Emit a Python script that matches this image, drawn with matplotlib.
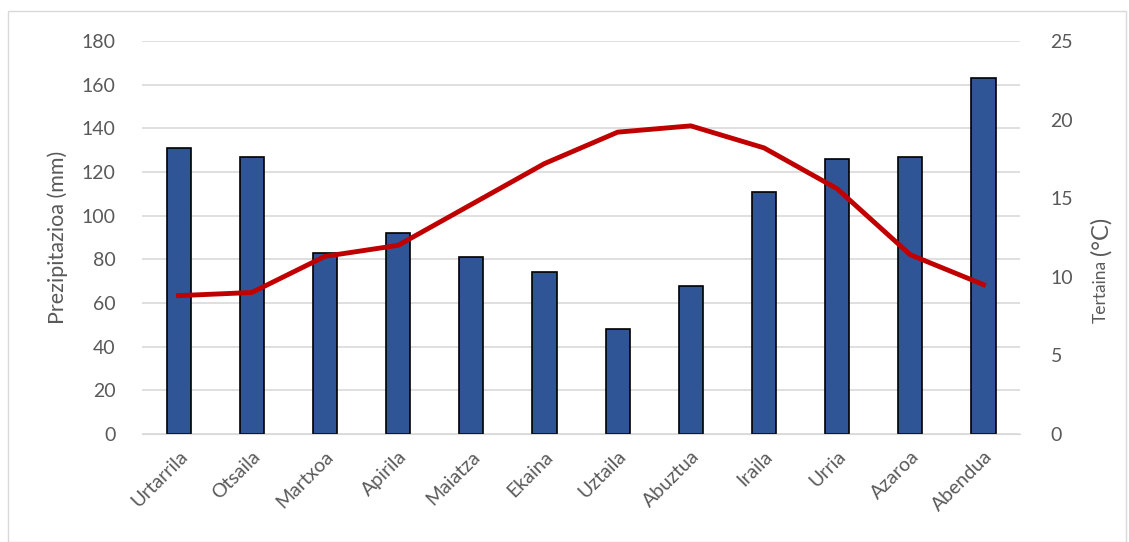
import matplotlib.pyplot as plt
from matplotlib.patches import Rectangle

months = ["Urtarrila", "Otsaila", "Martxoa", "Apirila", "Maiatza", "Ekaina",
          "Uztaila", "Abuztua", "Iraila", "Urria", "Azaroa", "Abendua"]
precip = [131, 127, 83, 92, 81, 74, 48, 68, 111, 126, 127, 163]
temp = [8.8, 9.0, 11.3, 12.0, 14.6, 17.2, 19.2, 19.6, 18.2, 15.6, 11.4, 9.5]

grey = "#595959"
plt.rcParams['font.family'] = ['Lato', 'DejaVu Sans']

fig = plt.figure(figsize=(11.29, 5.42), dpi=100)
fig.patches.append(Rectangle((0.007, 0.0), 0.99, 0.98, transform=fig.transFigure,
                             fill=False, edgecolor="#d9d9d9", linewidth=1))
ax = fig.add_axes([0.1258, 0.1993, 0.7777, 0.7251])
x = range(len(months))

ax.bar(x, precip, width=0.33, color="#2f5597", edgecolor="black", linewidth=1.2, zorder=2)
ax.set_ylim(0, 180)
ax.set_yticks(range(0, 181, 20))
ax.set_xlim(-0.5, len(months) - 0.5)
ax.grid(axis="y", color="#d9d9d9", linewidth=1.2, zorder=0)
ax.set_axisbelow(True)
ax.set_xticks(list(x))
ax.set_xticklabels(months, rotation=45, ha="right", rotation_mode="anchor")
ax.tick_params(axis="both", length=0, colors=grey, labelsize=14)
ax.tick_params(axis="y", pad=19)
ax.tick_params(axis="x", pad=10)
for s in ax.spines.values():
    s.set_visible(False)
ax.spines["bottom"].set_visible(True)
ax.spines["bottom"].set_color("#d9d9d9")
ax.set_ylabel("Prezipitazioa (mm)", color=grey, fontsize=15.5, labelpad=10)

ax2 = ax.twinx()
ax2.plot(x, temp, color="#c00000", linewidth=3.5, zorder=3)
ax2.set_ylim(0, 25)
ax2.set_yticks(range(0, 26, 5))
ax2.tick_params(axis="y", length=0, colors=grey, labelsize=14, pad=22)
for s in ax2.spines.values():
    s.set_visible(False)

fig.text(0.975, 1 - 291 / 542, "Tertaina", rotation=90, color=grey, fontsize=12.5,
         ha="center", va="center")
fig.text(0.975, 1 - 236 / 542, "(°C)", rotation=90, color=grey, fontsize=17,
         ha="center", va="center")

fig.savefig("out.png", dpi=100)
